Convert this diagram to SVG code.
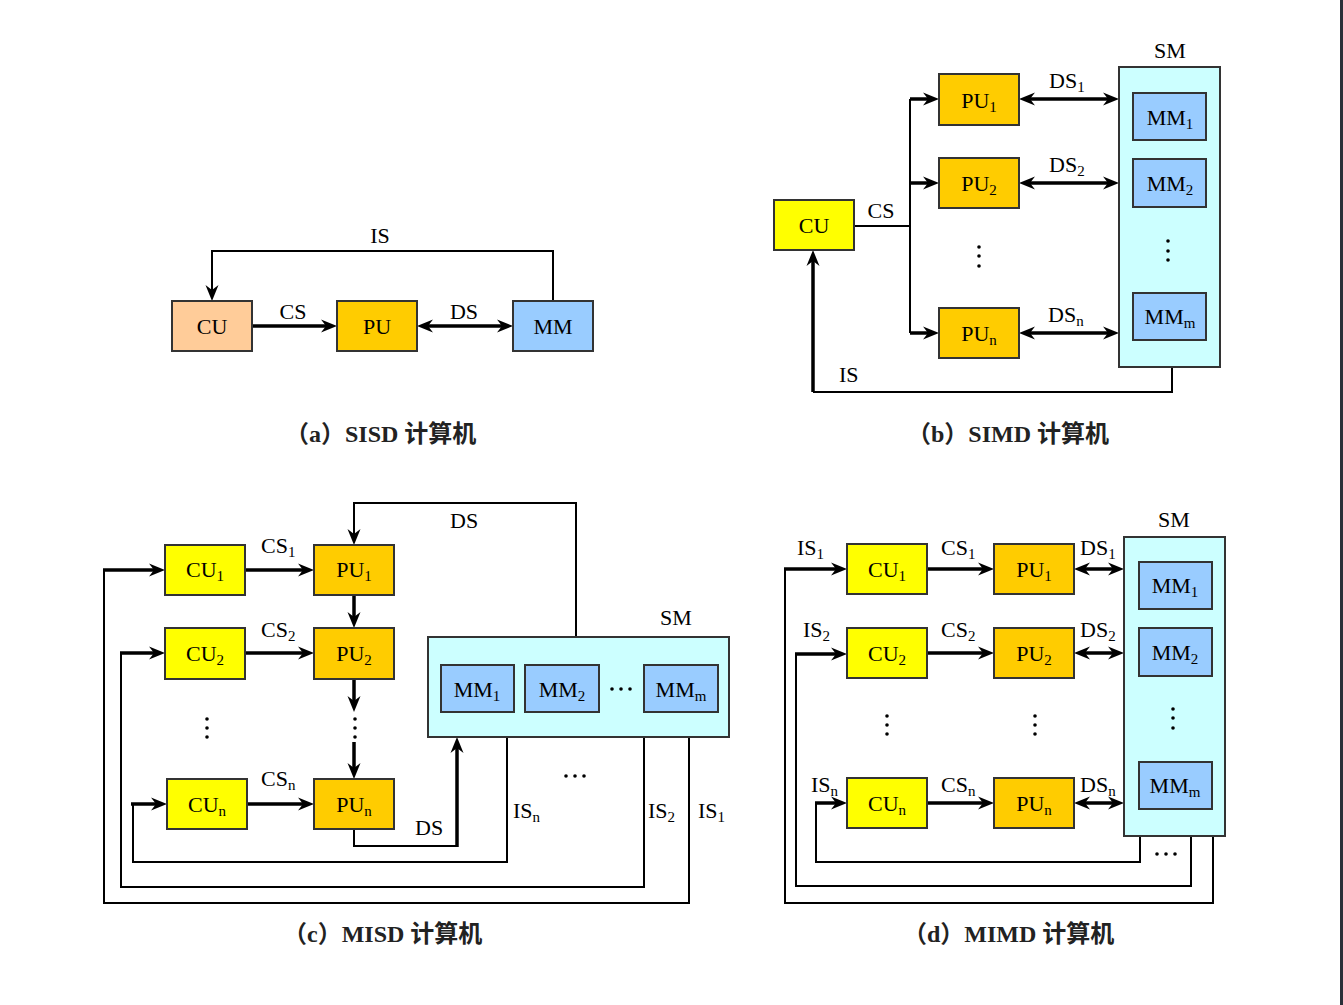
<svg xmlns="http://www.w3.org/2000/svg" width="1343" height="1005" viewBox="0 0 1343 1005">
<style>
.bx{stroke:#333;stroke-width:2}
.cuA{fill:#FFCC99}
.cu{fill:#FFFF00}
.pu{fill:#FFCC00}
.mm{fill:#99CCFF}
.sm{fill:#CCFFFF}
.t{font-family:"Liberation Serif","Times New Roman",serif;font-size:22px;fill:#000}
.m{text-anchor:middle}
.sub{font-size:15px}
.cap{font-family:"Liberation Serif","Noto Sans CJK SC",serif;font-weight:bold;font-size:24px;fill:#222}
.thin{fill:none;stroke:#000;stroke-width:2}
.thick{fill:none;stroke:#000;stroke-width:3.5}
.e{marker-end:url(#arr)}
.b{marker-start:url(#arr);marker-end:url(#arr)}
.dot{fill:#000}
</style>
<defs>
<marker id="arr" markerUnits="userSpaceOnUse" markerWidth="16" markerHeight="14" viewBox="0 0 16 14" refX="10" refY="7" orient="auto-start-reverse">
<path d="M0,0.5 L16,7 L0,13.5 L5,7 Z" fill="#000"/>
</marker>
</defs>
<rect x="0" y="0" width="1343" height="1005" fill="#fff"/>
<rect x="1340" y="0" width="3" height="1005" fill="#2a2f38"/>

<g id="connectors">
<!-- (a) -->
<path class="thin e" d="M553,301 V251 H212 V295"/>
<path class="thick e" d="M252,326 H331"/>
<path class="thick b" d="M423,326 H507"/>
<!-- (b) -->
<path class="thin" d="M854,226 H910 M910,99 V333"/>
<path class="thick e" d="M910,99 H933"/>
<path class="thick e" d="M910,183 H933"/>
<path class="thick e" d="M910,333 H933"/>
<path class="thick b" d="M1025,99 H1113"/>
<path class="thick b" d="M1025,183 H1113"/>
<path class="thick b" d="M1025,333 H1113"/>
<path class="thin" d="M1172,367 V392 H813"/>
<path class="thick e" d="M813,392 V256"/>
<!-- (c) -->
<path class="thick e" d="M246,570 H308"/>
<path class="thick e" d="M246,653 H308"/>
<path class="thick e" d="M247,804 H308"/>
<path class="thick e" d="M354,596 V622"/>
<path class="thick e" d="M354,679 V706"/>
<path class="thick e" d="M354,742 V773"/>
<path class="thin e" d="M576,637 V503 H354 V539"/>
<path class="thin" d="M354,829 V846 H457"/>
<path class="thick e" d="M457,847 V743"/>
<path class="thin" d="M507,737 V862 H133 V804"/>
<path class="thick e" d="M131,804 H161"/>
<path class="thin" d="M644,737 V887 H121 V653"/>
<path class="thick e" d="M120,653 H159"/>
<path class="thin" d="M689,737 V903 H104 V570"/>
<path class="thick e" d="M103,570 H159"/>
<!-- (d) -->
<path class="thick e" d="M927,569 H988"/>
<path class="thick e" d="M927,653 H988"/>
<path class="thick e" d="M927,803 H988"/>
<path class="thick b" d="M1080,569 H1118"/>
<path class="thick b" d="M1080,653 H1118"/>
<path class="thick b" d="M1080,803 H1118"/>
<path class="thin" d="M1213,836 V903 H785 V569"/>
<path class="thick e" d="M784,569 H841"/>
<path class="thin" d="M1191,836 V886 H796 V654"/>
<path class="thick e" d="M795,654 H841"/>
<path class="thin" d="M1140,836 V862 H816 V803"/>
<path class="thick e" d="M815,803 H841"/>

<!-- labels -->
<text class="t m" x="380" y="243">IS</text>
<text class="t m" x="293" y="319">CS</text>
<text class="t m" x="464" y="319">DS</text>

<text class="t m" x="881" y="218">CS</text>
<text class="t" x="1049" y="88">DS<tspan class="sub" dy="4">1</tspan></text>
<text class="t" x="1049" y="172">DS<tspan class="sub" dy="4">2</tspan></text>
<text class="t" x="1048" y="322">DS<tspan class="sub" dy="4">n</tspan></text>
<text class="t" x="839" y="382">IS</text>

<text class="t" x="261" y="553">CS<tspan class="sub" dy="4">1</tspan></text>
<text class="t" x="261" y="637">CS<tspan class="sub" dy="4">2</tspan></text>
<text class="t" x="261" y="786">CS<tspan class="sub" dy="4">n</tspan></text>
<text class="t" x="450" y="528">DS</text>
<text class="t" x="415" y="835">DS</text>
<text class="t" x="513" y="818">IS<tspan class="sub" dy="4">n</tspan></text>
<text class="t" x="648" y="818">IS<tspan class="sub" dy="4">2</tspan></text>
<text class="t" x="698" y="818">IS<tspan class="sub" dy="4">1</tspan></text>
<circle class="dot" cx="566" cy="776" r="1.8"/><circle class="dot" cx="575" cy="776" r="1.8"/><circle class="dot" cx="584" cy="776" r="1.8"/>
<circle class="dot" cx="207" cy="719" r="1.8"/><circle class="dot" cx="207" cy="728" r="1.8"/><circle class="dot" cx="207" cy="737" r="1.8"/>
<circle class="dot" cx="355" cy="719" r="1.8"/><circle class="dot" cx="355" cy="728" r="1.8"/><circle class="dot" cx="355" cy="737" r="1.8"/>

<text class="t" x="797" y="555">IS<tspan class="sub" dy="4">1</tspan></text>
<text class="t" x="941" y="555">CS<tspan class="sub" dy="4">1</tspan></text>
<text class="t" x="1080" y="555">DS<tspan class="sub" dy="4">1</tspan></text>
<text class="t" x="803" y="637">IS<tspan class="sub" dy="4">2</tspan></text>
<text class="t" x="941" y="637">CS<tspan class="sub" dy="4">2</tspan></text>
<text class="t" x="1080" y="637">DS<tspan class="sub" dy="4">2</tspan></text>
<text class="t" x="811" y="792">IS<tspan class="sub" dy="4">n</tspan></text>
<text class="t" x="941" y="792">CS<tspan class="sub" dy="4">n</tspan></text>
<text class="t" x="1080" y="792">DS<tspan class="sub" dy="4">n</tspan></text>
<circle class="dot" cx="1157" cy="854" r="1.8"/><circle class="dot" cx="1166" cy="854" r="1.8"/><circle class="dot" cx="1175" cy="854" r="1.8"/>
<circle class="dot" cx="887" cy="716" r="1.8"/><circle class="dot" cx="887" cy="725" r="1.8"/><circle class="dot" cx="887" cy="734" r="1.8"/>
<circle class="dot" cx="1035" cy="716" r="1.8"/><circle class="dot" cx="1035" cy="725" r="1.8"/><circle class="dot" cx="1035" cy="734" r="1.8"/>
<circle class="dot" cx="979" cy="247" r="1.8"/><circle class="dot" cx="979" cy="256" r="1.8"/><circle class="dot" cx="979" cy="266" r="1.8"/>
</g>

<!-- (a) nodes -->
<g id="a-cu"><rect class="bx cuA" x="172" y="301" width="80" height="50"/><text class="t m" x="212" y="334">CU</text></g>
<g id="a-pu"><rect class="bx pu" x="337" y="301" width="80" height="50"/><text class="t m" x="377" y="334">PU</text></g>
<g id="a-mm"><rect class="bx mm" x="513" y="301" width="80" height="50"/><text class="t m" x="553" y="334">MM</text></g>
<text id="a-cap" class="cap" x="285" y="442">（a）SISD 计算机</text>

<!-- (b) nodes -->
<g id="b-cu"><rect class="bx cu" x="774" y="200" width="80" height="50"/><text class="t m" x="814" y="233">CU</text></g>
<g id="b-pu1"><rect class="bx pu" x="939" y="74" width="80" height="51"/><text class="t m" x="979" y="108">PU<tspan class="sub" dy="4">1</tspan></text></g>
<g id="b-pu2"><rect class="bx pu" x="939" y="158" width="80" height="50"/><text class="t m" x="979" y="191">PU<tspan class="sub" dy="4">2</tspan></text></g>
<g id="b-pun"><rect class="bx pu" x="939" y="308" width="80" height="50"/><text class="t m" x="979" y="341">PU<tspan class="sub" dy="4">n</tspan></text></g>
<g id="b-sm">
<rect class="bx sm" x="1119" y="67" width="101" height="300"/>
<text class="t m" x="1170" y="58">SM</text>
<circle class="dot" cx="1168" cy="241" r="1.8"/><circle class="dot" cx="1168" cy="251" r="1.8"/><circle class="dot" cx="1168" cy="260" r="1.8"/>
</g>
<g id="b-mm1"><rect class="bx mm" x="1133" y="93" width="73" height="47"/><text class="t m" x="1170" y="125">MM<tspan class="sub" dy="4">1</tspan></text></g>
<g id="b-mm2"><rect class="bx mm" x="1133" y="159" width="73" height="48"/><text class="t m" x="1170" y="191">MM<tspan class="sub" dy="4">2</tspan></text></g>
<g id="b-mmm"><rect class="bx mm" x="1133" y="293" width="73" height="47"/><text class="t m" x="1170" y="324">MM<tspan class="sub" dy="4">m</tspan></text></g>
<text id="b-cap" class="cap" x="907" y="442">（b）SIMD 计算机</text>

<!-- (c) nodes -->
<g id="c-cu1"><rect class="bx cu" x="165" y="545" width="80" height="50"/><text class="t m" x="205" y="577">CU<tspan class="sub" dy="4">1</tspan></text></g>
<g id="c-cu2"><rect class="bx cu" x="165" y="628" width="80" height="51"/><text class="t m" x="205" y="661">CU<tspan class="sub" dy="4">2</tspan></text></g>
<g id="c-cun"><rect class="bx cu" x="167" y="779" width="80" height="50"/><text class="t m" x="207" y="812">CU<tspan class="sub" dy="4">n</tspan></text></g>
<g id="c-pu1"><rect class="bx pu" x="314" y="545" width="80" height="50"/><text class="t m" x="354" y="577">PU<tspan class="sub" dy="4">1</tspan></text></g>
<g id="c-pu2"><rect class="bx pu" x="314" y="628" width="80" height="51"/><text class="t m" x="354" y="661">PU<tspan class="sub" dy="4">2</tspan></text></g>
<g id="c-pun"><rect class="bx pu" x="314" y="779" width="80" height="50"/><text class="t m" x="354" y="812">PU<tspan class="sub" dy="4">n</tspan></text></g>
<g id="c-sm">
<rect class="bx sm" x="428" y="637" width="301" height="100"/>
<text class="t m" x="676" y="625">SM</text>
<circle class="dot" cx="612" cy="689" r="1.8"/><circle class="dot" cx="621" cy="689" r="1.8"/><circle class="dot" cx="630" cy="689" r="1.8"/>
</g>
<g id="c-mm1"><rect class="bx mm" x="441" y="665" width="73" height="47"/><text class="t m" x="477" y="697">MM<tspan class="sub" dy="4">1</tspan></text></g>
<g id="c-mm2"><rect class="bx mm" x="525" y="665" width="74" height="47"/><text class="t m" x="562" y="697">MM<tspan class="sub" dy="4">2</tspan></text></g>
<g id="c-mmm"><rect class="bx mm" x="644" y="665" width="74" height="47"/><text class="t m" x="681" y="697">MM<tspan class="sub" dy="4">m</tspan></text></g>
<text id="c-cap" class="cap" x="283" y="942">（c）MISD 计算机</text>

<!-- (d) nodes -->
<g id="d-cu1"><rect class="bx cu" x="847" y="544" width="80" height="50"/><text class="t m" x="887" y="577">CU<tspan class="sub" dy="4">1</tspan></text></g>
<g id="d-cu2"><rect class="bx cu" x="847" y="628" width="80" height="50"/><text class="t m" x="887" y="661">CU<tspan class="sub" dy="4">2</tspan></text></g>
<g id="d-cun"><rect class="bx cu" x="847" y="778" width="80" height="50"/><text class="t m" x="887" y="811">CU<tspan class="sub" dy="4">n</tspan></text></g>
<g id="d-pu1"><rect class="bx pu" x="994" y="544" width="80" height="50"/><text class="t m" x="1034" y="577">PU<tspan class="sub" dy="4">1</tspan></text></g>
<g id="d-pu2"><rect class="bx pu" x="994" y="628" width="80" height="50"/><text class="t m" x="1034" y="661">PU<tspan class="sub" dy="4">2</tspan></text></g>
<g id="d-pun"><rect class="bx pu" x="994" y="778" width="80" height="50"/><text class="t m" x="1034" y="811">PU<tspan class="sub" dy="4">n</tspan></text></g>
<g id="d-sm">
<rect class="bx sm" x="1124" y="537" width="101" height="299"/>
<text class="t m" x="1174" y="527">SM</text>
<circle class="dot" cx="1173" cy="709" r="1.8"/><circle class="dot" cx="1173" cy="718" r="1.8"/><circle class="dot" cx="1173" cy="728" r="1.8"/>
</g>
<g id="d-mm1"><rect class="bx mm" x="1139" y="562" width="73" height="47"/><text class="t m" x="1175" y="593">MM<tspan class="sub" dy="4">1</tspan></text></g>
<g id="d-mm2"><rect class="bx mm" x="1139" y="628" width="73" height="48"/><text class="t m" x="1175" y="660">MM<tspan class="sub" dy="4">2</tspan></text></g>
<g id="d-mmm"><rect class="bx mm" x="1139" y="762" width="73" height="47"/><text class="t m" x="1175" y="793">MM<tspan class="sub" dy="4">m</tspan></text></g>
<text id="d-cap" class="cap" x="903" y="942">（d）MIMD 计算机</text>
</svg>
